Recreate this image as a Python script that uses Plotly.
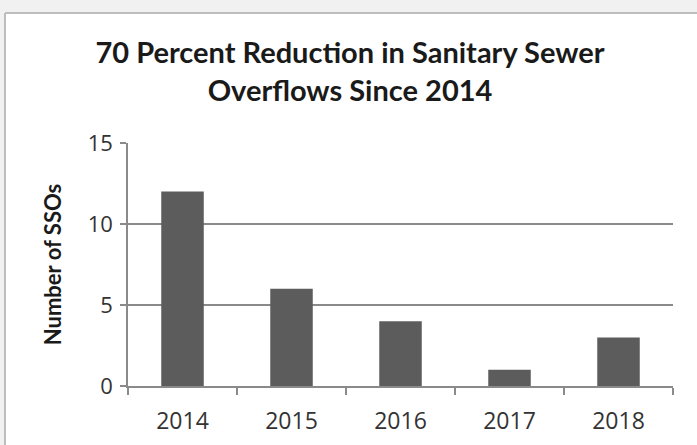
import plotly.graph_objects as go

years = ["2014", "2015", "2016", "2017", "2018"]
ssos = [12, 6, 4, 1, 3]
y_ticks = [0, 5, 10, 15]

W, H = 697, 445
L, R, T, B = 128, 24, 143, 59
PW, PH = W - L - R, H - T - B

def px(xp):
    return (xp - L) / PW

def py(yp):
    return 1 + (T - yp) / PH

fig = go.Figure()
fig.add_trace(go.Bar(x=years, y=ssos, marker=dict(color="#5c5c5c", line=dict(width=0)), width=0.39))

fig.update_layout(
    width=W, height=H,
    margin=dict(l=L, r=R, t=T, b=B),
    paper_bgcolor="white",
    plot_bgcolor="white",
    showlegend=False,
    title=dict(
        text="70 Percent Reduction in Sanitary Sewer<br>Overflows Since 2014",
        x=350 / W, xanchor="center", xref="container",
        y=1 - 63 / H, yanchor="top",
        font=dict(family="Lato", size=29, color="#1a1a1a", weight="bold"),
    ),
    font=dict(family="Open Sans", color="#333333"),
)
# outer grey strips and chart border
fig.add_shape(type="rect", xref="paper", yref="paper", x0=px(0), x1=px(W), y0=py(12), y1=py(0),
              line=dict(width=0), fillcolor="#f1f1f1", layer="below")
fig.add_shape(type="rect", xref="paper", yref="paper", x0=px(0), x1=px(4), y0=py(H), y1=py(0),
              line=dict(width=0), fillcolor="#f1f1f1", layer="below")
fig.add_shape(type="line", xref="paper", yref="paper", x0=px(5), x1=px(W), y0=py(13), y1=py(13),
              line=dict(color="#bdbdbd", width=2))
fig.add_shape(type="line", xref="paper", yref="paper", x0=px(5), x1=px(5), y0=py(H), y1=py(13),
              line=dict(color="#bdbdbd", width=2))
fig.update_xaxes(
    showline=True, linecolor="#8a8a8a", linewidth=1.5, automargin=False,
    ticks="outside", tickson="boundaries", ticklen=7, tickcolor="#8a8a8a", tickwidth=1.5,
    tickfont=dict(size=23, color="#333333"), showgrid=False, ticklabelstandoff=14,
)
fig.update_yaxes(
    range=[0, 15], tickvals=y_ticks, showline=True, linecolor="#8a8a8a", linewidth=1.5, automargin=False,
    ticks="outside", ticklen=6, tickcolor="#8a8a8a", tickwidth=1.5,
    showgrid=True, gridcolor="#8a8a8a", gridwidth=1.5, zeroline=False,
    tickfont=dict(size=22, color="#333333"), ticklabelstandoff=3,
    title=dict(text="<b>Number of SSOs</b>", font=dict(family="Lato", size=22, color="#1a1a1a"), standoff=20),
)
fig.write_html("out.html", config={"displayModeBar": False},
               post_script="document.body.style.margin='0px';")
